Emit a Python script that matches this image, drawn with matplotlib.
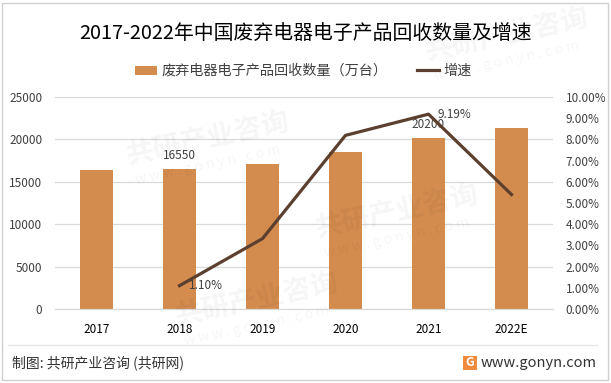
import matplotlib
matplotlib.use("Agg")
import numpy as np
import matplotlib.pyplot as plt
from matplotlib.patches import Rectangle, Patch
from matplotlib.lines import Line2D

plt.rcParams['font.family'] = ['Noto Sans CJK SC', 'DejaVu Sans']

# data
years = ['2017', '2018', '2019', '2020', '2021', '2022E']
volume = [16370, 16550, 17100, 18500, 20200, 21300]          # 万台
growth = [np.nan, 1.10, 3.32, 8.19, 9.19, 5.40]                # %
bar_labels = {1: '16550', 4: '20200'}
line_labels = {1: '1.10%', 4: '9.19%'}

bar_color = '#D38B4E'
line_color = '#5B4030'

fig = plt.figure(figsize=(6.11, 3.83), dpi=100)
ax = fig.add_axes([55 / 611, 1 - 309 / 383, 498 / 611, 212 / 383])
ax2 = ax.twinx()

x = np.arange(len(years))

# faint watermarks
wm = [(0.34, 0.64), (0.65, 0.45), (0.42, 0.22), (0.83, 0.91)]
for wx, wy in wm:
    fig.text(wx, wy, '共研产业咨询', fontsize=20, fontweight='bold', color='#000000',
             alpha=0.04, rotation=12, ha='center', va='center', zorder=0)
    fig.text(wx, wy - 0.07, 'w w w . g o n y n . c o m', fontsize=10, color='#000000',
             alpha=0.04, rotation=12, ha='center', va='center', zorder=0)

# bars
ax.bar(x, volume, width=0.4, color=bar_color, zorder=2)
ax.set_ylim(0, 25000)
ax.set_yticks(np.arange(0, 25001, 5000))
ax.set_xlim(-0.5, len(years) - 0.5)
ax.set_xticks(x)
ax.set_xticklabels(years)
ax.grid(axis='y', color='#D9D9D9', linewidth=0.9, zorder=0)
ax.set_axisbelow(True)
for i, t in bar_labels.items():
    ax.annotate(t, (x[i], volume[i]), xytext=(0, 7), textcoords='offset pixels',
                ha='center', va='bottom', fontsize=8.5, color='#404040')

# growth line
ax2.plot(x[1:], growth[1:], color=line_color, linewidth=2.3, zorder=3)
ax2.set_ylim(0, 10)
ax2.set_yticks(np.arange(0, 10.01, 1))
ax2.set_yticklabels(['%.2f%%' % v for v in np.arange(0, 10.01, 1)])
for i, t in line_labels.items():
    ax2.annotate(t, (x[i], growth[i]), xytext=(26, 0), textcoords='offset pixels',
                 ha='center', va='center', fontsize=8.5, color='#404040')

for a in (ax, ax2):
    for s in ('top', 'left', 'right'):
        a.spines[s].set_visible(False)
    a.spines['bottom'].set_color('#D9D9D9')
    a.tick_params(length=0, labelsize=8.5, labelcolor='#404040')
ax.tick_params(axis='x', pad=10, labelcolor='#000000')
ax.tick_params(axis='y', pad=9)
ax2.tick_params(axis='y', pad=9)

# title
fig.text(0.5, 1 - 33 / 383, '2017-2022年中国废弃电器电子产品回收数量及增速',
         ha='center', va='center', fontsize=14.3, color='#000000')

# legend
handles = [Patch(facecolor=bar_color, edgecolor='none'),
           Line2D([0], [0], color=line_color, linewidth=2.3)]
fig.legend(handles, ['废弃电器电子产品回收数量（万台）', '增速'], ncol=2,
           loc='center', bbox_to_anchor=(303 / 611, 1 - 71 / 383), frameon=False,
           fontsize=10.2, handlelength=1.6, handleheight=0.6, handletextpad=0.25,
           columnspacing=2.1, labelcolor='#404040')

# footer
fig.add_artist(Line2D([8 / 611, 597 / 611], [1 - 345 / 383, 1 - 345 / 383],
                      color='#E6E6E6', linewidth=1, transform=fig.transFigure))
fig.text(12 / 611, 1 - 363 / 383, '制图: 共研产业咨询 (共研网)', ha='left', va='center',
         fontsize=10, color='#333333')
fig.text(597 / 611, 1 - 363 / 383, 'www.gonyn.com', ha='right', va='center',
         fontsize=10.5, color='#333333')
fig.add_artist(Rectangle((463 / 611, 1 - 370 / 383), 14 / 611, 14 / 383,
                         facecolor='#F08A3C', edgecolor='none', transform=fig.transFigure))
fig.text(470 / 611, 1 - 363 / 383, 'G', ha='center', va='center', fontsize=9,
         fontweight='bold', color='white')

# outer frame
fig.add_artist(Rectangle((2 / 611, 3 / 383), 606 / 611, 377 / 383, fill=False,
                         edgecolor='#D0D0D0', linewidth=1, transform=fig.transFigure))

fig.savefig('out.png', dpi=100)
